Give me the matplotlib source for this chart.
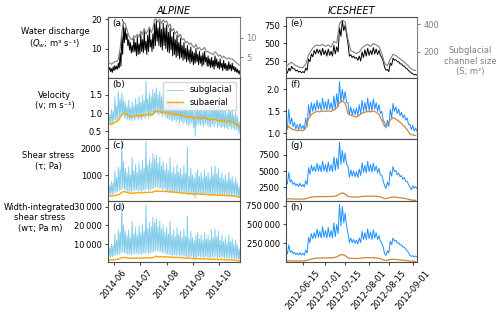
import numpy as np
import pandas as pd
import matplotlib
matplotlib.use('Agg')
import matplotlib.pyplot as plt
import matplotlib.dates as mdates
from matplotlib.ticker import FuncFormatter

# ---------------- ALPINE (2-day samples from 2014-05-25; hi = daily peak, lo = trough) ----
alp_start = '2014-05-25'
alp_q_hi = [4.0, 3.6, 3.2, 3.8, 4.2, 4.0, 5.0, 8.5, 14.0, 17.5,
            17.0, 15.0, 13.0, 12.0, 11.0, 13.5, 12.0, 14.0, 11.5, 15.0,
            13.0, 16.0, 12.5, 14.5, 16.5, 13.0, 15.0, 18.5, 19.5, 17.0,
            19.0, 16.5, 18.5, 17.0, 18.0, 15.5, 17.0, 14.0, 15.5, 13.0,
            14.5, 12.0, 13.5, 11.0, 12.0, 10.0, 11.0, 9.5, 10.5, 9.0,
            8.5, 10.0, 8.0, 9.0, 7.5, 8.5, 9.0, 7.0, 7.5, 6.5,
            7.0, 6.0, 7.5, 6.5, 5.5, 6.5, 5.0, 6.0, 5.0, 4.5,
            5.5, 4.5, 5.0, 4.0, 3.5, 3.0, 2.5]
alp_q_lo = [2.8, 2.2, 1.9, 2.5, 2.9, 3.0, 3.4, 4.0, 8.0, 12.0,
            13.0, 11.0, 9.5, 8.5, 8.8, 9.0, 7.5, 8.0, 8.2, 9.0,
            8.6, 9.5, 8.0, 9.0, 10.5, 9.0, 10.0, 11.0, 12.5, 11.0,
            10.5, 9.5, 11.0, 10.0, 9.0, 8.5, 9.5, 7.5, 8.0, 7.0,
            7.5, 6.5, 7.0, 6.0, 6.5, 5.5, 6.0, 5.0, 5.5, 4.5,
            5.0, 5.5, 4.5, 5.0, 4.0, 4.5, 5.5, 4.0, 4.0, 3.5,
            3.8, 3.0, 4.0, 3.5, 3.0, 3.5, 2.5, 3.2, 2.6, 2.5,
            3.0, 2.4, 2.8, 2.2, 2.0, 1.6, 1.2]
alp_s = [3.7, 3.4, 3.1, 3.5, 3.8, 3.8, 4.5, 7.1, 11.4, 14.1,
         13.7, 12.2, 10.6, 9.8, 9.5, 10.6, 10.2, 11.0, 10.2, 11.8,
         11.0, 12.5, 11.0, 11.8, 12.9, 11.4, 12.5, 14.8, 15.0, 14.1,
         15.0, 13.7, 14.8, 14.1, 14.5, 12.9, 13.7, 11.8, 12.5, 11.0,
         11.8, 10.2, 11.0, 9.5, 9.8, 8.7, 9.1, 8.3, 8.7, 7.9,
         7.5, 8.3, 7.1, 7.5, 6.8, 7.1, 7.5, 6.4, 6.4, 6.0,
         6.0, 5.6, 6.4, 6.0, 5.2, 5.6, 4.8, 5.2, 4.8, 4.5,
         4.8, 4.5, 4.5, 4.1, 3.7, 3.3, 2.9]
alp_v_sg_hi = [1.00, 0.95, 1.10, 1.05, 1.45, 1.20, 1.60, 1.40, 1.55, 1.35,
               1.30, 1.20, 1.35, 1.15, 1.30, 1.20, 1.40, 1.25, 1.45, 1.30,
               1.50, 1.35, 1.88, 1.40, 1.55, 1.45, 1.65, 1.55, 1.70, 1.50,
               1.60, 1.45, 1.55, 1.35, 1.45, 1.30, 1.40, 1.25, 1.35, 1.20,
               1.40, 1.25, 1.30, 1.15, 1.35, 1.20, 1.25, 1.10, 1.30, 1.15,
               1.05, 1.20, 1.25, 1.10, 1.20, 1.05, 1.25, 1.10, 1.20, 1.05,
               1.30, 1.15, 1.35, 1.20, 1.30, 1.10, 1.20, 1.05, 1.15, 1.00,
               1.20, 1.05, 1.10, 0.95, 1.05, 0.90, 0.75]
alp_v_sg_lo = [0.75, 0.70, 0.72, 0.78, 0.80, 0.82, 0.85, 0.90, 0.95, 0.88,
               0.85, 0.80, 0.82, 0.78, 0.85, 0.80, 0.88, 0.82, 0.85, 0.80,
               0.90, 0.85, 0.95, 0.85, 0.90, 0.92, 0.95, 1.00, 1.00, 0.95,
               0.98, 0.90, 0.95, 0.88, 0.85, 0.82, 0.80, 0.78, 0.82, 0.75,
               0.80, 0.72, 0.78, 0.70, 0.75, 0.70, 0.65, 0.68, 0.72, 0.60,
               0.35, 0.65, 0.70, 0.65, 0.68, 0.62, 0.70, 0.65, 0.62, 0.60,
               0.68, 0.62, 0.70, 0.60, 0.65, 0.58, 0.62, 0.58, 0.60, 0.55,
               0.62, 0.55, 0.58, 0.52, 0.55, 0.48, 0.42]
alp_v_sa = [0.72, 0.70, 0.68, 0.72, 0.74, 0.76, 0.80, 0.88, 0.95, 1.00,
            0.98, 0.95, 0.92, 0.90, 0.89, 0.93, 0.90, 0.94, 0.91, 0.95,
            0.92, 0.96, 0.93, 0.95, 0.98, 0.94, 0.97, 1.04, 1.06, 1.02,
            1.05, 1.01, 1.04, 1.00, 1.03, 0.98, 1.01, 0.96, 0.99, 0.95,
            0.97, 0.93, 0.95, 0.91, 0.93, 0.89, 0.91, 0.88, 0.90, 0.86,
            0.87, 0.90, 0.85, 0.88, 0.84, 0.86, 0.88, 0.83, 0.84, 0.81,
            0.83, 0.80, 0.84, 0.81, 0.78, 0.81, 0.77, 0.80, 0.77, 0.75,
            0.79, 0.74, 0.77, 0.72, 0.70, 0.66, 0.62]
alp_tau_sg_hi = [650, 600, 750, 700, 1150, 900, 1300, 1200, 2300, 1500,
                 1250, 1100, 1300, 1000, 1650, 1150, 1400, 1100, 1450, 1200,
                 1550, 1250, 2250, 1350, 1600, 1450, 1800, 1600, 1750, 1450,
                 1650, 1350, 1500, 1200, 1400, 1150, 1650, 1100, 1300, 1050,
                 1400, 1100, 1250, 1000, 1350, 1050, 2050, 950, 1250, 1000,
                 900, 1100, 1200, 950, 1100, 900, 1200, 950, 1100, 900,
                 1300, 1000, 1350, 1050, 1250, 900, 1100, 850, 1000, 800,
                 1100, 850, 950, 750, 900, 700, 550]
alp_tau_sg_lo = [300, 250, 280, 320, 350, 380, 400, 450, 500, 450,
                 420, 380, 400, 360, 430, 400, 450, 400, 420, 380,
                 450, 420, 500, 420, 450, 480, 500, 550, 550, 500,
                 520, 450, 480, 420, 400, 380, 360, 340, 380, 320,
                 380, 300, 350, 280, 320, 280, 260, 270, 300, 240,
                 150, 260, 300, 260, 280, 240, 300, 260, 240, 230,
                 280, 240, 300, 230, 260, 220, 250, 220, 230, 200,
                 250, 200, 220, 190, 200, 170, 150]
alp_tau_sa = [230, 220, 210, 225, 235, 245, 260, 300, 350, 380,
              370, 350, 330, 320, 310, 330, 320, 340, 325, 345,
              335, 350, 340, 345, 360, 345, 360, 390, 405, 385,
              400, 385, 395, 375, 390, 365, 380, 355, 370, 345,
              360, 335, 345, 320, 330, 305, 315, 295, 305, 285,
              290, 305, 280, 290, 270, 280, 285, 260, 265, 250,
              258, 245, 262, 248, 235, 250, 230, 245, 230, 220,
              238, 215, 228, 205, 195, 185, 170]
alp_wtau_sg_hi = [8800, 8100, 10100, 9500, 15500, 12200, 17500, 16200, 31000, 20300,
                  16900, 14900, 17600, 13500, 22300, 15500, 18900, 14900, 19600, 16200,
                  20900, 16900, 31000, 18200, 21600, 19600, 24300, 21600, 23600, 19600,
                  22300, 18200, 20300, 16200, 18900, 15500, 22300, 14900, 17600, 14200,
                  18900, 14900, 16900, 13500, 18200, 14200, 25000, 12800, 16900, 13500,
                  12200, 14900, 16200, 12800, 14900, 12200, 16200, 12800, 14900, 12200,
                  17600, 13500, 18200, 14200, 16900, 12200, 14900, 11500, 13500, 10800,
                  14900, 11500, 12800, 10100, 12200, 9500, 7400]
alp_wtau_sg_lo = [3600, 3000, 3400, 3800, 4200, 4600, 4800, 5400, 6000, 5400,
                  5000, 4600, 4800, 4300, 5200, 4800, 5400, 4800, 5000, 4600,
                  5400, 5000, 6000, 5000, 5400, 5800, 6000, 6600, 6600, 6000,
                  6200, 5400, 5800, 5000, 4800, 4600, 4300, 4100, 4600, 3800,
                  4600, 3600, 4200, 3400, 3800, 3400, 3100, 3200, 3600, 2900,
                  1800, 3100, 3600, 3100, 3400, 2900, 3600, 3100, 2900, 2800,
                  3400, 2900, 3600, 2800, 3100, 2600, 3000, 2600, 2800, 2400,
                  3000, 2400, 2600, 2300, 2400, 2000, 1800]
alp_wtau_sa = [1800, 1750, 1650, 1750, 1850, 1950, 2100, 2400, 2800, 3000,
               2950, 2800, 2650, 2550, 2500, 2650, 2550, 2700, 2600, 2750,
               2700, 2800, 2700, 2750, 2900, 2750, 2900, 3400, 3600, 3300,
               3500, 3300, 3450, 3250, 3350, 3150, 3250, 3050, 3150, 2950,
               3050, 2850, 2950, 2700, 2800, 2600, 2650, 2500, 2550, 2350,
               2400, 2500, 2300, 2400, 2200, 2300, 2350, 2150, 2150, 2000,
               2100, 1950, 2100, 2000, 1850, 1950, 1800, 1900, 1800, 1700,
               1850, 1650, 1750, 1550, 1450, 1300, 1150]

# ---------------- ICESHEET (2-day samples from 2012-06-03) ----------------
ice_start = '2012-06-03'
ice_q_hi = [110, 150, 175, 140, 120, 105, 100, 150, 280, 350,
            400, 420, 410, 430, 400, 420, 390, 470, 450, 720,
            820, 760, 500, 340, 320, 300, 320, 380, 410, 430,
            400, 440, 420, 400, 300, 160, 130, 220, 290, 270,
            240, 210, 180, 140, 100, 70, 60]
ice_q_lo = [80, 110, 140, 110, 95, 85, 85, 120, 240, 310,
            350, 360, 330, 340, 320, 330, 320, 350, 380, 600,
            680, 620, 320, 300, 290, 260, 250, 300, 320, 330,
            340, 350, 340, 330, 250, 120, 100, 190, 260, 240,
            210, 180, 150, 115, 80, 55, 50]
ice_s = [88, 109, 122, 104, 93, 85, 83, 109, 176, 212,
         238, 249, 243, 254, 238, 249, 233, 274, 264, 404,
         430, 415, 290, 207, 197, 186, 197, 228, 243, 254,
         238, 259, 249, 238, 186, 114, 98, 145, 181, 171,
         155, 140, 124, 104, 83, 67, 62]
ice_v_sg_hi = [1.25, 1.55, 1.35, 1.25, 1.20, 1.22, 1.18, 1.35, 1.65, 1.70,
               1.68, 1.75, 1.70, 1.80, 1.72, 1.78, 1.70, 1.85, 1.90, 2.18,
               2.00, 1.95, 1.70, 1.60, 1.55, 1.58, 1.65, 1.75, 1.70, 1.80,
               1.72, 1.78, 1.70, 1.65, 1.50, 1.25, 1.30, 1.55, 1.68, 1.60,
               1.55, 1.48, 1.42, 1.35, 1.20, 1.18, 1.12]
ice_v_sg_lo = [1.10, 1.20, 1.15, 1.10, 1.08, 1.10, 1.08, 1.15, 1.40, 1.50,
               1.52, 1.55, 1.52, 1.55, 1.53, 1.55, 1.52, 1.55, 1.60, 1.70,
               1.75, 1.70, 1.42, 1.42, 1.42, 1.40, 1.45, 1.50, 1.50, 1.52,
               1.52, 1.55, 1.50, 1.45, 1.30, 1.12, 1.15, 1.35, 1.50, 1.45,
               1.40, 1.35, 1.30, 1.20, 1.08, 1.05, 1.05]
ice_v_sa = [1.06, 1.16, 1.10, 1.08, 1.06, 1.07, 1.06, 1.12, 1.33, 1.43,
            1.47, 1.50, 1.49, 1.51, 1.50, 1.51, 1.50, 1.53, 1.58, 1.70,
            1.74, 1.68, 1.45, 1.41, 1.39, 1.37, 1.41, 1.46, 1.48, 1.50,
            1.49, 1.51, 1.48, 1.43, 1.30, 1.16, 1.19, 1.30, 1.36, 1.32,
            1.28, 1.22, 1.16, 1.08, 0.99, 0.96, 0.95]
ice_tau_sg_hi = [3500, 4800, 3600, 3200, 3000, 3100, 2900, 3500, 5500, 5900,
                 5700, 6200, 5900, 6500, 6000, 6400, 6000, 7200, 7000, 9500,
                 8200, 7800, 5800, 5200, 5000, 4900, 5300, 6300, 5900, 6500,
                 6000, 6200, 5800, 5400, 4300, 2700, 3300, 5000, 5700, 5100,
                 4700, 4300, 4000, 3400, 2500, 2700, 2600]
ice_tau_sg_lo = [3000, 3300, 2900, 2700, 2600, 2600, 2500, 2900, 4500, 5000,
                 4900, 5000, 4900, 5000, 4800, 5000, 4900, 5100, 5300, 6000,
                 6300, 6000, 4000, 4200, 4100, 4000, 4300, 4800, 4700, 4900,
                 4800, 5000, 4700, 4400, 3500, 2300, 2700, 4200, 4900, 4400,
                 4100, 3700, 3400, 2900, 2100, 2300, 2300]
ice_tau_sa = [650, 700, 680, 660, 650, 650, 640, 700, 850, 950,
              1000, 1020, 1030, 1040, 1030, 1050, 1040, 1080, 1150, 1450,
              1600, 1450, 1050, 1000, 980, 960, 1000, 1060, 1080, 1100,
              1090, 1110, 1080, 1040, 920, 720, 760, 900, 980, 940,
              880, 820, 760, 680, 560, 480, 450]
ice_wtau_sg_hi = [150000, 230000, 150000, 130000, 120000, 125000, 115000, 160000, 330000, 380000,
                  390000, 440000, 410000, 470000, 420000, 460000, 420000, 520000, 500000, 770000,
                  740000, 650000, 380000, 320000, 300000, 290000, 320000, 410000, 390000, 440000,
                  400000, 430000, 390000, 350000, 250000, 110000, 150000, 280000, 320000, 290000,
                  260000, 230000, 200000, 150000, 90000, 85000, 80000]
ice_wtau_sg_lo = [110000, 130000, 110000, 100000, 95000, 95000, 90000, 120000, 260000, 310000,
                  320000, 330000, 320000, 330000, 320000, 330000, 320000, 340000, 380000, 480000,
                  520000, 480000, 260000, 260000, 250000, 240000, 260000, 300000, 300000, 310000,
                  300000, 320000, 300000, 280000, 200000, 90000, 120000, 230000, 280000, 250000,
                  225000, 200000, 170000, 125000, 75000, 70000, 70000]
ice_wtau_sa = [15000, 17000, 16000, 15000, 14000, 14000, 14000, 18000, 30000, 40000,
               48000, 52000, 54000, 55000, 55000, 57000, 56000, 60000, 68000, 90000,
               100000, 88000, 55000, 50000, 48000, 46000, 50000, 55000, 57000, 58000,
               57000, 58000, 55000, 50000, 38000, 22000, 24000, 34000, 38000, 35000,
               31000, 27000, 23000, 18000, 13000, 11000, 10000]

row_labels = ['Water discharge\n($Q_w$; m³ s⁻¹)', 'Velocity\n(v; m s⁻¹)',
              'Shear stress\n(τ; Pa)', 'Width-integrated\nshear stress\n(wτ; Pa m)']
panel_letters = ['(a)', '(b)', '(c)', '(d)', '(e)', '(f)', '(g)', '(h)']

FS = 6
plt.rcParams['font.family'] = ['DejaVu Sans']
plt.rcParams['font.size'] = FS


def zig(start, hi, lo):
    d = pd.date_range(start, periods=len(hi), freq='2D')
    x = np.empty(2 * len(hi), dtype='datetime64[ns]')
    x[0::2] = d.values
    x[1::2] = (d + pd.Timedelta(days=1)).values
    y = np.empty(2 * len(hi))
    y[0::2] = hi
    y[1::2] = lo
    return x, y


def dates(start, vals):
    return pd.date_range(start, periods=len(vals), freq='2D')


fig = plt.figure(figsize=(5, 3.12), dpi=100)
W, H = 500, 312


def ax_at(x0, x1, y0, y1):
    return fig.add_axes([x0 / W, 1 - y1 / H, (x1 - x0) / W, (y1 - y0) / H])


rows = [(17, 78), (78, 139), (139, 201), (201, 262)]
L = [ax_at(108, 240, *r) for r in rows]
R = [ax_at(286, 417, *r) for r in rows]

spc = '0.3'
for ax in L + R:
    for s in ax.spines.values():
        s.set_color(spc)
    ax.tick_params(colors=spc, labelcolor='black', length=2.5, width=0.8, labelsize=FS, pad=2)

sky = '#87CEEB'
org = '#FFA500'
dblue = '#1E90FF'
peru = '#CD853F'
lw_sg = 0.7

# ----- Alpine -----
ax = L[0]
ax.plot(*zig(alp_start, alp_q_hi, alp_q_lo), color='black', lw=0.7)
ax.set_ylim(0, 20.7)
ax.set_yticks([10, 20])
tw = ax.twinx()
tw.plot(dates(alp_start, alp_s), alp_s, color='gray', lw=0.8)
tw.set_ylim(-0.5, 15.5)
tw.set_yticks([5, 10])
tw.tick_params(colors='gray', labelcolor='gray', length=2.5, labelsize=FS, pad=2)
for s in tw.spines.values():
    s.set_visible(False)
ax.spines['right'].set_color('gray')

ax = L[1]
ax.plot(*zig(alp_start, alp_v_sg_hi, alp_v_sg_lo), color=sky, lw=lw_sg, label='subglacial')
ax.plot(dates(alp_start, alp_v_sa), alp_v_sa, color=org, lw=1.0, label='subaerial')
ax.set_ylim(0.28, 1.97)
ax.set_yticks([0.5, 1.0, 1.5])
ax.legend(loc='upper right', fontsize=FS, handlelength=2.0, borderpad=0.4, labelspacing=0.4)

ax = L[2]
ax.plot(*zig(alp_start, alp_tau_sg_hi, alp_tau_sg_lo), color=sky, lw=lw_sg)
ax.plot(dates(alp_start, alp_tau_sa), alp_tau_sa, color=org, lw=1.0)
ax.set_ylim(26, 2350)
ax.set_yticks([1000, 2000])

ax = L[3]
ax.plot(*zig(alp_start, alp_wtau_sg_hi, alp_wtau_sg_lo), color=sky, lw=lw_sg)
ax.plot(dates(alp_start, alp_wtau_sa), alp_wtau_sa, color=org, lw=1.0)
ax.set_ylim(585, 33000)
ax.set_yticks([10000, 20000, 30000])

# ----- Icesheet -----
ax = R[0]
ax.plot(*zig(ice_start, ice_q_hi, ice_q_lo), color='black', lw=0.7)
ax.set_ylim(10, 873)
ax.set_yticks([250, 500, 750])
tw2 = ax.twinx()
tw2.plot(dates(ice_start, ice_s), ice_s, color='gray', lw=0.8)
tw2.set_ylim(7.5, 453)
tw2.set_yticks([200, 400])
tw2.tick_params(colors='gray', labelcolor='gray', length=2.5, labelsize=FS, pad=2)
for s in tw2.spines.values():
    s.set_visible(False)
ax.spines['right'].set_color('gray')

ax = R[1]
ax.plot(*zig(ice_start, ice_v_sg_hi, ice_v_sg_lo), color=dblue, lw=lw_sg)
ax.plot(dates(ice_start, ice_v_sa), ice_v_sa, color=peru, lw=0.9)
ax.set_ylim(0.87, 2.26)
ax.set_yticks([1.0, 1.5, 2.0])

ax = R[2]
ax.plot(*zig(ice_start, ice_tau_sg_hi, ice_tau_sg_lo), color=dblue, lw=lw_sg)
ax.plot(dates(ice_start, ice_tau_sa), ice_tau_sa, color=peru, lw=0.9)
ax.set_ylim(350, 9970)
ax.set_yticks([2500, 5000, 7500])

ax = R[3]
ax.plot(*zig(ice_start, ice_wtau_sg_hi, ice_wtau_sg_lo), color=dblue, lw=lw_sg)
ax.plot(dates(ice_start, ice_wtau_sa), ice_wtau_sa, color=peru, lw=0.9)
ax.set_ylim(1000, 812500)
ax.set_yticks([250000, 500000, 750000])

thin = FuncFormatter(lambda v, p: (f'{int(round(v)):,}'.replace(',', '\u2009')
                                   if v >= 10000 else f'{int(round(v))}'))
for ax in (L[2], L[3], R[2], R[3], R[0]):
    ax.yaxis.set_major_formatter(thin)

# x axes
for ax in L:
    ax.set_xlim(pd.Timestamp('2014-05-25'), pd.Timestamp('2014-10-25'))
    ax.xaxis.set_major_locator(mdates.MonthLocator())
    ax.xaxis.set_major_formatter(mdates.DateFormatter('%Y-%m'))
for ax in R:
    ax.set_xlim(pd.Timestamp('2012-06-03'), pd.Timestamp('2012-09-04'))
    ax.xaxis.set_major_locator(mdates.DayLocator(bymonthday=[1, 15]))
    ax.xaxis.set_major_formatter(mdates.DateFormatter('%Y-%m-%d'))
for ax in L[:3] + R[:3]:
    ax.tick_params(axis='x', which='both', bottom=False, labelbottom=False)
for ax in (L[3], R[3]):
    ax.tick_params(axis='x', labelrotation=50)

for ax, lab in zip(L + R, panel_letters):
    ax.text(0.03, 0.97, lab, transform=ax.transAxes, ha='left', va='top', fontsize=6.5)

L[0].set_title('ALPINE', style='italic', fontsize=7, pad=2.5)
R[0].set_title('ICESHEET', style='italic', fontsize=7, pad=2.5)

label_pos = [(55, 38.5), (55, 100.7), (48, 161), (40, 218)]
for (x, y), lab in zip(label_pos, row_labels):
    fig.text(x / W, 1 - y / H, lab, ha='center', va='center', multialignment='center', fontsize=FS)
fig.text(470 / W, 1 - 61 / H, 'Subglacial\nchannel size\n(S; m²)', ha='center', va='center',
         multialignment='center', fontsize=FS, color='gray')

fig.savefig('out.png', dpi=100)
